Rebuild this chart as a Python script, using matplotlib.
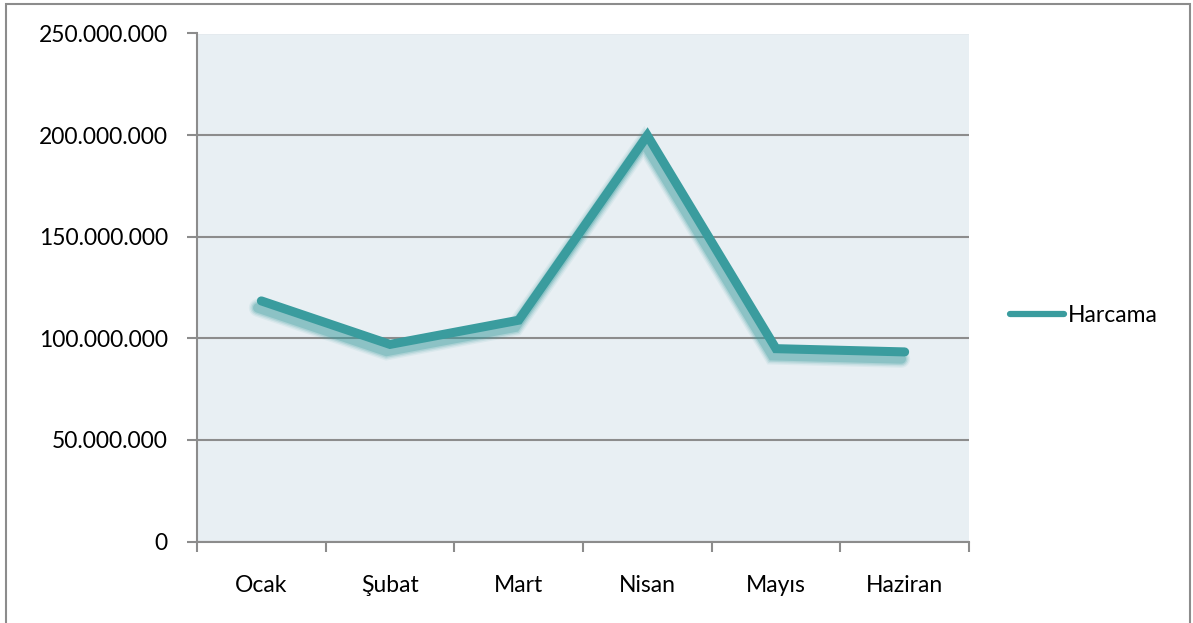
import matplotlib
matplotlib.use("Agg")
import matplotlib.pyplot as plt
import matplotlib.patheffects as pe
from matplotlib.patches import Rectangle
from matplotlib.lines import Line2D
from matplotlib.ticker import FuncFormatter, MultipleLocator, FixedLocator

categories = ["Ocak", "Şubat", "Mart", "Nisan", "Mayıs", "Haziran"]
harcama = [118_400_000, 97_000_000, 108_900_000, 199_800_000, 94_900_000, 93_300_000]
series_name = "Harcama"

plt.rcParams['font.family'] = ['Lato', 'DejaVu Sans']
FS = 16.5
line_color = "#3A9C9E"
grid_color = "#8C8C8C"

fig = plt.figure(figsize=(11.93, 6.23), dpi=100)
fig.patch.set_facecolor("white")
# outer chart border
fig.patches.append(Rectangle((6/1193, -0.05), (1190-6)/1193, 1.05 - 4/623,
                             transform=fig.transFigure, fill=False,
                             edgecolor="#8C8C8C", linewidth=1.5))

ax = fig.add_axes([197/1193, 1-541.5/623, (969-197)/1193, (541.5-33.5)/623])
ax.set_facecolor("#E8EFF3")

x = list(range(len(categories)))
shadow_effects = []
for w, a in [(13, 0.08), (11, 0.12), (9, 0.18), (7, 0.28)]:
    shadow_effects.append(pe.SimpleLineShadow(offset=(-2.5, -5), shadow_color="#3A9C9E",
                                              alpha=a, linewidth=w))
shadow_effects.append(pe.Normal())
ax.plot(x, harcama, color=line_color, linewidth=6.5, solid_capstyle="round",
        solid_joinstyle="miter", zorder=3, path_effects=shadow_effects)

ax.set_xlim(-0.5, len(categories) - 0.5)
ax.set_ylim(0, 250_000_000)
ax.yaxis.set_major_locator(MultipleLocator(50_000_000))
ax.yaxis.set_major_formatter(FuncFormatter(lambda v, p: f"{int(v):,}".replace(",", ".")))
ax.grid(axis="y", color=grid_color, linewidth=1.5)
ax.set_axisbelow(True)

ax.set_xticks(x)
ax.set_xticklabels(categories)
ax.xaxis.set_minor_locator(FixedLocator([i - 0.5 for i in range(len(categories) + 1)]))
ax.tick_params(axis="x", which="major", length=0, pad=24, labelsize=FS)
ax.tick_params(axis="x", which="minor", length=7, width=1.5, color=grid_color, direction="out")
ax.tick_params(axis="y", length=7, width=1.5, color=grid_color, pad=14, labelsize=FS)

for s in ["top", "right"]:
    ax.spines[s].set_visible(False)
for s in ["left", "bottom"]:
    ax.spines[s].set_color(grid_color)
    ax.spines[s].set_linewidth(1.5)

handle = Line2D([0], [0], color=line_color, linewidth=4.5, solid_capstyle="round")
fig.legend(handles=[handle], labels=[series_name], loc="center left",
           bbox_to_anchor=(1010/1193, 1-316/623), frameon=False, fontsize=FS,
           handlelength=2.35, handletextpad=0.18, borderpad=0, borderaxespad=0)

fig.savefig("out.png", dpi=100)
